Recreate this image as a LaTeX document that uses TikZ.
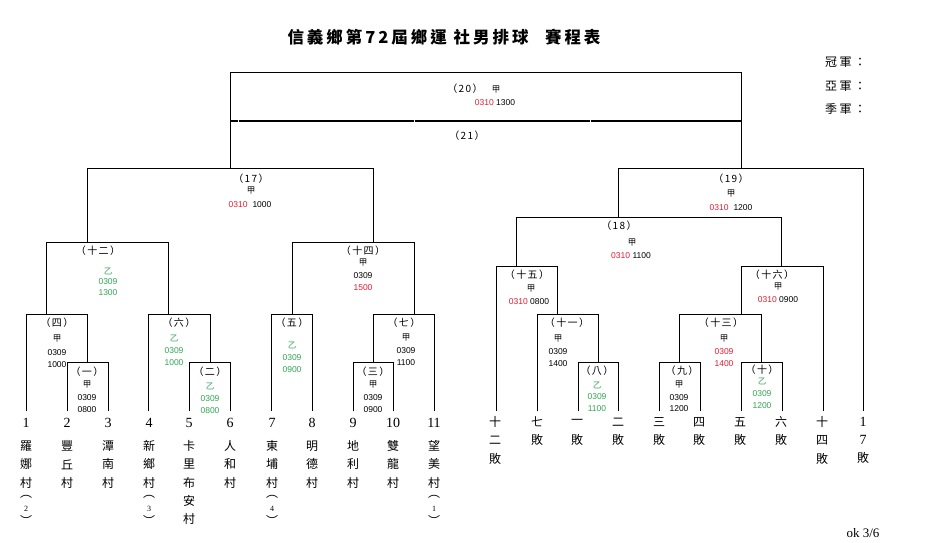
\documentclass[tikz,border=0pt]{standalone}
\usepackage{fontspec}
\setmainfont{Liberation Serif}
\newfontfamily\cjk{Noto Sans CJK TC}
\newfontfamily\cjksp[LetterSpace=14]{Noto Sans CJK TC}
\newfontfamily\arialf{Liberation Sans}
\definecolor{rd}{RGB}{225,30,50}
\definecolor{gr}{RGB}{50,165,85}
\tikzset{
  ln/.style={line width=1pt},
  thk/.style={line width=2pt},
  lab/.style={font=\cjksp\fontsize{10}{12}\selectfont, inner sep=0pt},
  sm/.style={font=\arialf\fontsize{8.5}{10}\selectfont, inner sep=0pt},
  ch/.style={font=\cjk\fontsize{8.5}{10}\selectfont, inner sep=0pt},
  leafch/.style={font=\cjk\fontsize{12}{14}\selectfont, inner sep=0pt},
  num/.style={font=\fontsize{14}{16}\selectfont, inner sep=0pt},
  pnum/.style={font=\fontsize{8}{9}\selectfont, inner sep=0pt},
}
\newcommand\leafcol[4]{%
  \foreach \c [count=\i] in {#4} {\node[leafch] (#2-\i) at (#1,{#3+18.3*(\i-1)}) {\c};}}
\newcommand\parennum[3]{%
  \node[leafch] (#2-po) at (#1,497) {︵};
  \node[pnum] (#2-pn) at (#1,509) {#3};
  \node[leafch] (#2-pc) at (#1,520) {︶};}
\begin{document}
\begin{tikzpicture}[x=1pt,y=-1pt]
\useasboundingbox (0,0) rectangle (928,542);
\fill[white] (0,0) rectangle (928,542);

% title and results
\node[font=\cjk\bfseries\fontsize{16.5}{18}\selectfont\addfontfeatures{LetterSpace=18}, inner sep=0pt] (title) at (444,37) {信義鄉第72屆鄉運\ 社男排球\quad 賽程表};
\node[font=\cjk\fontsize{12}{14}\selectfont\addfontfeatures{LetterSpace=20}, anchor=west, inner sep=0pt] (champ) at (825,62) {冠軍：};
\node[font=\cjk\fontsize{12}{14}\selectfont\addfontfeatures{LetterSpace=20}, anchor=west, inner sep=0pt] (second) at (825,86) {亞軍：};
\node[font=\cjk\fontsize{12}{14}\selectfont\addfontfeatures{LetterSpace=20}, anchor=west, inner sep=0pt] (third) at (825,109) {季軍：};

% bracket lines
\draw[ln] (230,168)--(230,72)--(741,72)--(741,168);
\draw[thk] (230,121)--(237.5,121);
\draw[thk] (238.5,121)--(413.5,121);
\draw[thk] (414.5,121)--(590,121);
\draw[thk] (591,121)--(741,121);
\draw[ln] (87,242)--(87,168)--(373,168)--(373,242);
\draw[ln] (46,314)--(46,242)--(168,242)--(168,314);
\draw[ln] (26,411)--(26,314)--(87,314)--(87,362);
\draw[ln] (67,411)--(67,362)--(108,362)--(108,411);
\draw[ln] (148,411)--(148,314)--(210,314)--(210,362);
\draw[ln] (189,411)--(189,362)--(230,362)--(230,411);
\draw[ln] (292,314)--(292,242)--(414,242)--(414,314);
\draw[ln] (271,411)--(271,314)--(312,314)--(312,411);
\draw[ln] (373,362)--(373,314)--(434,314)--(434,411);
\draw[ln] (353,411)--(353,362)--(393,362)--(393,411);
\draw[ln] (618,217)--(618,168)--(863,168)--(863,411);
\draw[ln] (516,266)--(516,217)--(781,217)--(781,266);
\draw[ln] (496,411)--(496,266)--(557,266)--(557,314);
\draw[ln] (537,411)--(537,314)--(598,314)--(598,362);
\draw[ln] (578,411)--(578,362)--(618,362)--(618,411);
\draw[ln] (741,314)--(741,266)--(823,266)--(823,411);
\draw[ln] (679,362)--(679,314)--(761,314)--(761,362);
\draw[ln] (659,411)--(659,362)--(700,362)--(700,411);
\draw[ln] (741,411)--(741,362)--(782,362)--(782,411);

% (20) (21)
\node[lab] (m20) at (465,89) {（20）};
\node[ch] (m20a) at (496,90) {甲};
\node[sm] (m20t) at (495,103) {\textcolor{rd}{0310} 1300};
\node[lab] (m21) at (467,136) {（21）};
% (17)
\node[lab] (m17) at (251,179) {（17）};
\node[ch] (m17a) at (251,191) {甲};
\node[sm] (m17t) at (250,205) {\textcolor{rd}{0310}\hspace{5pt}1000};
% (19)
\node[lab] (m19) at (731,179) {（19）};
\node[ch] (m19a) at (731,194) {甲};
\node[sm] (m19t) at (731,208) {\textcolor{rd}{0310}\hspace{5pt}1200};
% (18)
\node[lab] (m18) at (619,226) {（18）};
\node[ch] (m18a) at (632,243) {甲};
\node[sm] (m18t) at (631,256) {\textcolor{rd}{0310} 1100};
% 十五
\node[lab] (m15) at (527,275) {（十五）};
\node[ch] (m15a) at (531,289) {甲};
\node[sm] (m15t) at (529,302) {\textcolor{rd}{0310} 0800};
% 十一
\node[lab] (m11) at (567,323) {（十一）};
\node[ch] (m11a) at (558,339) {甲};
\node[sm] (m11d) at (558,352) {0309};
\node[sm] (m11h) at (558,364) {1400};
% 八
\node[lab] (m8) at (597,371) {（八）};
\node[ch, text=gr] (m8a) at (597,385) {乙};
\node[sm, text=gr] (m8d) at (597,397) {0309};
\node[sm, text=gr] (m8h) at (597,409) {1100};
% 九
\node[lab] (m9) at (682,371) {（九）};
\node[ch] (m9a) at (679,385) {甲};
\node[sm] (m9d) at (679,398) {0309};
\node[sm] (m9h) at (679,409) {1200};
% 十三
\node[lab] (m13) at (721,323) {（十三）};
\node[ch] (m13a) at (724,339) {甲};
\node[sm, text=rd] (m13d) at (724,352) {0309};
\node[sm, text=rd] (m13h) at (724,364) {1400};
% 十
\node[lab] (m10) at (762,370) {（十）};
\node[ch, text=gr] (m10a) at (762,381) {乙};
\node[sm, text=gr] (m10d) at (762,394) {0309};
\node[sm, text=gr] (m10h) at (762,406) {1200};
% 十六
\node[lab] (m16) at (772,275) {（十六）};
\node[ch] (m16a) at (778,287) {甲};
\node[sm] (m16t) at (778,300) {\textcolor{rd}{0310} 0900};
% 十二
\node[lab] (m12) at (98,251) {（十二）};
\node[ch, text=gr] (m12a) at (108,271) {乙};
\node[sm, text=gr] (m12d) at (108,282) {0309};
\node[sm, text=gr] (m12h) at (108,293) {1300};
% 四
\node[lab] (m4) at (57,323) {（四）};
\node[ch] (m4a) at (57,339) {甲};
\node[sm] (m4d) at (57,353) {0309};
\node[sm] (m4h) at (57,365) {1000};
% 一
\node[lab] (m1) at (87,372) {（一）};
\node[ch] (m1a) at (87,385) {甲};
\node[sm] (m1d) at (87,398) {0309};
\node[sm] (m1h) at (87,410) {0800};
% 六
\node[lab] (m6) at (179,323) {（六）};
\node[ch, text=gr] (m6a) at (174,338) {乙};
\node[sm, text=gr] (m6d) at (174,351) {0309};
\node[sm, text=gr] (m6h) at (174,363) {1000};
% 二
\node[lab] (m2) at (210,372) {（二）};
\node[ch, text=gr] (m2a) at (210,386) {乙};
\node[sm, text=gr] (m2d) at (210,399) {0309};
\node[sm, text=gr] (m2h) at (210,411) {0800};
% 十四
\node[lab] (m14) at (363,251) {（十四）};
\node[ch] (m14a) at (363,263) {甲};
\node[sm] (m14d) at (363,276) {0309};
\node[sm, text=rd] (m14h) at (363,288) {1500};
% 五
\node[lab] (m5) at (292,323) {（五）};
\node[ch, text=gr] (m5a) at (292,345) {乙};
\node[sm, text=gr] (m5d) at (292,358) {0309};
\node[sm, text=gr] (m5h) at (292,370) {0900};
% 七
\node[lab] (m7) at (404,323) {（七）};
\node[ch] (m7a) at (406,338) {甲};
\node[sm] (m7d) at (406,351) {0309};
\node[sm] (m7h) at (406,363) {1100};
% 三
\node[lab] (m3) at (373,372) {（三）};
\node[ch] (m3a) at (373,385) {甲};
\node[sm] (m3d) at (373,398) {0309};
\node[sm] (m3h) at (373,410) {0900};

% leaf numbers
\foreach \x/\n in {26/1,67/2,108/3,149/4,189/5,230/6,272/7,312/8,353/9,393/10,434/11}
  \node[num] (n\n) at (\x,423) {\n};

% team names
\leafcol{26}{ta}{446}{羅,娜,村}
\parennum{26}{ta}{2}
\leafcol{67}{tb}{446}{豐,丘,村}
\leafcol{108}{tc}{446}{潭,南,村}
\leafcol{149}{td}{446}{新,鄉,村}
\parennum{149}{td}{3}
\leafcol{189}{te}{446}{卡,里,布,安,村}
\leafcol{230}{tf}{446}{人,和,村}
\leafcol{272}{tg}{446}{東,埔,村}
\parennum{272}{tg}{4}
\leafcol{312}{th}{446}{明,德,村}
\leafcol{353}{ti}{446}{地,利,村}
\leafcol{393}{tj}{446}{雙,龍,村}
\leafcol{434}{tk}{446}{望,美,村}
\parennum{434}{tk}{1}

% losers
\leafcol{495}{la}{422}{十,二,敗}
\leafcol{537}{lb}{422}{七,敗}
\leafcol{577}{lc}{422}{一,敗}
\leafcol{618}{ld}{422}{二,敗}
\leafcol{659}{le}{422}{三,敗}
\leafcol{699}{lf}{422}{四,敗}
\leafcol{740}{lg}{422}{五,敗}
\leafcol{781}{lh}{422}{六,敗}
\leafcol{822}{li}{422}{十,四,敗}
\node[num] (lj-1) at (863,422) {1};
\node[num] (lj-2) at (863,440) {7};
\node[leafch] (lj-3) at (863,458) {敗};

\node[font=\fontsize{13}{15}\selectfont, inner sep=0pt] (ok) at (863,533) {ok 3/6};
\end{tikzpicture}
\end{document}
